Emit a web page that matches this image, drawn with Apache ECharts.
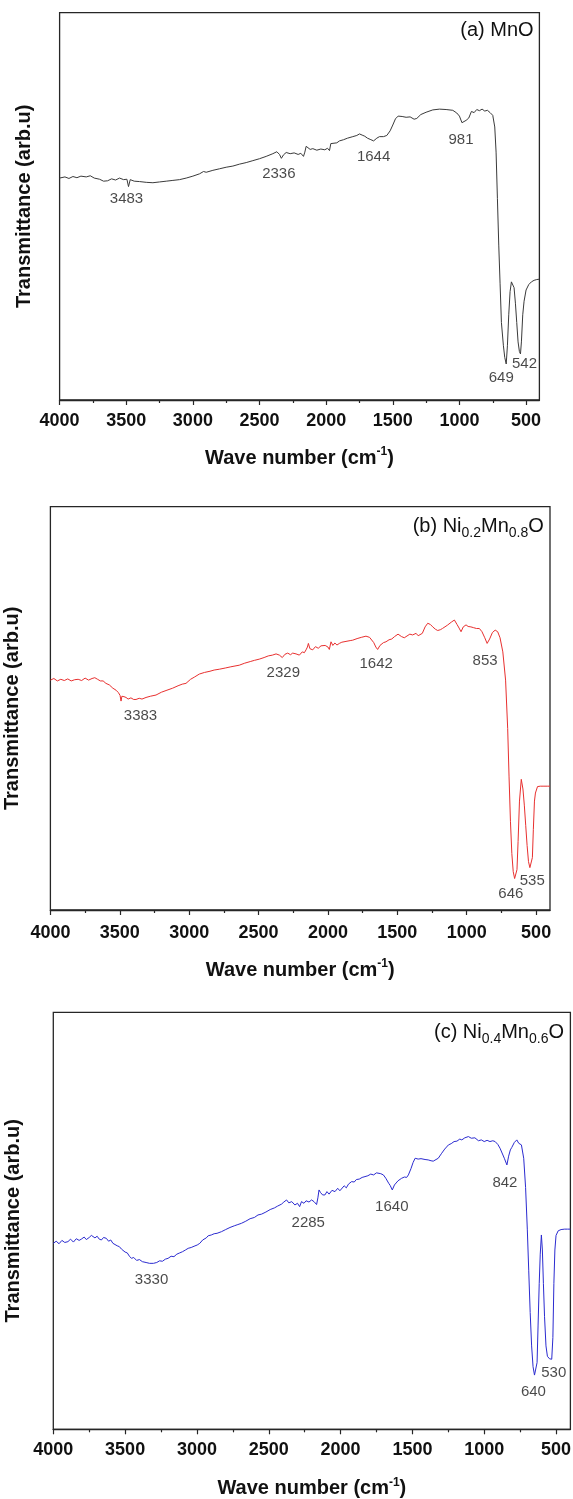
<!DOCTYPE html>
<html>
<head>
<meta charset="utf-8">
<script src="https://cdn.jsdelivr.net/npm/echarts@6/dist/echarts.min.js"></script>
<style>
  html, body { margin: 0; padding: 0; background: #fff; }
  #chart { width: 573px; height: 1499px; }
</style>
</head>
<body>
<div id="chart"></div>
<script>
// FTIR spectra of MnO, Ni0.2Mn0.8O and Ni0.4Mn0.6O (transmittance, arbitrary units 0-100)

// x axis tick labels (wavenumber, cm-1)
const majorTicks = [4000, 3500, 3000, 2500, 2000, 1500, 1000, 500];
const minorTicks = [3750, 3250, 2750, 2250, 1750, 1250, 750];

// (a) MnO
const waveA = [4000,3960,3930,3900,3870,3840,3800,3770,3740,3700,3670,3640,3610,3580,3550,3520,3495,3483,3470,3440,3400,3350,3300,3250,3200,3150,3100,3050,3000,2950,2920,2900,2850,2800,2750,2700,2650,2600,2550,2500,2450,2400,2370,2350,2336,2320,2300,2270,2240,2210,2190,2170,2160,2150,2140,2120,2100,2070,2040,2010,1990,1975,1965,1950,1920,1900,1870,1840,1800,1770,1750,1730,1710,1690,1670,1644,1620,1600,1570,1545,1520,1500,1480,1460,1430,1400,1370,1340,1320,1290,1250,1200,1150,1100,1050,1020,1000,981,970,950,930,910,890,870,850,830,810,790,770,750,735,725,715,705,695,685,670,660,649,640,630,620,610,600,590,580,570,560,550,542,535,525,515,500,480,460,440,420,400];
const transA = [57.3,57.6,57.2,57.7,57.4,57.8,57.6,57.9,57.3,57.0,56.5,56.6,57.1,56.8,57.3,56.9,57.0,55.1,56.9,56.5,56.4,56.2,56.1,56.3,56.5,56.7,56.9,57.3,57.8,58.4,59.0,58.8,59.3,59.7,60.1,60.4,60.9,61.3,61.8,62.3,62.9,63.6,64.1,63.4,62.4,63.3,63.9,63.6,63.8,63.4,63.7,62.9,64.0,65.5,65.0,64.7,64.9,64.5,64.8,64.6,65.0,64.4,66.2,65.8,66.4,66.9,67.2,67.6,68.0,68.3,68.7,68.4,68.1,67.6,67.3,66.9,67.6,68.0,68.0,68.3,69.5,71.0,72.6,73.3,73.2,73.0,73.1,72.5,72.7,73.7,74.3,74.9,75.1,75.0,74.8,74.1,73.3,71.6,71.7,72.2,72.8,74.5,74.2,75.0,74.7,75.1,74.6,74.8,74.2,73.5,70.5,64.0,52.0,40.0,30.0,20.0,14.0,11.0,9.3,14.0,22.0,28.0,30.5,30.7,29.0,25.0,20.0,15.0,12.5,11.9,15.0,22.0,25.5,28.4,29.8,30.5,30.9,31.1,31.2];
const peaksA = [3483, 2336, 1644, 981, 649, 542];

// (b) Ni0.2Mn0.8O
const waveB = [4000,3975,3950,3925,3900,3875,3850,3825,3800,3775,3750,3725,3700,3680,3660,3640,3620,3600,3575,3550,3527,3510,3498,3491,3485,3470,3455,3440,3420,3400,3383,3360,3340,3311,3280,3239,3200,3160,3119,3080,3050,3023,2990,2960,2927,2890,2850,2820,2783,2740,2700,2670,2639,2600,2560,2530,2495,2460,2430,2400,2374,2350,2329,2310,2290,2270,2254,2230,2206,2185,2170,2158,2148,2141,2130,2110,2090,2070,2050,2038,2020,2000,1990,1978,1965,1950,1935,1918,1900,1870,1840,1822,1790,1760,1726,1700,1690,1670,1655,1642,1625,1600,1582,1560,1540,1520,1510,1495,1486,1470,1450,1437,1410,1390,1365,1350,1341,1320,1300,1281,1262,1245,1225,1209,1190,1175,1161,1140,1110,1089,1070,1055,1041,1025,1005,990,970,950,930,909,890,870,853,835,815,795,777,760,740,720,705,695,685,675,665,655,646,638,630,620,607,595,585,575,565,555,545,535,527,520,512,505,490,470,450,420,400];
const transB = [57.0,57.4,56.8,57.2,56.9,57.3,56.8,57.1,57.2,56.9,57.5,57.0,57.4,57.6,57.2,56.8,56.8,56.2,55.8,55.0,54.5,53.9,53.2,51.8,53.0,52.9,52.7,52.3,52.6,52.2,52.2,52.5,52.3,52.7,53.0,53.3,54.0,54.5,55.0,55.6,56.0,56.2,57.2,57.8,58.5,58.9,59.2,59.5,59.7,60.0,60.3,60.5,60.7,61.2,61.6,61.9,62.2,62.6,63.0,63.2,63.5,63.2,62.6,63.4,63.7,63.3,63.7,63.5,63.2,64.0,63.8,64.5,65.2,66.1,64.8,64.5,65.3,64.9,65.5,65.1,65.6,65.2,64.6,66.5,65.6,66.2,65.7,66.1,66.4,66.6,66.8,66.9,67.3,67.6,67.9,67.6,67.4,66.3,65.2,64.6,65.6,66.3,66.5,67.0,67.2,67.8,68.2,68.4,68.8,67.8,67.5,67.8,68.4,68.2,68.6,68.0,67.6,68.6,70.2,71.1,70.8,70.2,69.6,69.3,69.5,69.8,69.8,70.6,71.4,71.9,70.8,69.9,69.0,70.2,70.7,70.3,70.2,70.0,69.8,69.8,69.0,67.5,66.1,67.2,68.8,69.4,69.0,67.5,64.0,57.0,45.0,33.0,22.0,14.0,9.5,7.8,7.6,10.0,17.0,27.0,32.4,30.0,26.0,21.0,16.0,12.0,10.5,10.3,13.0,20.0,27.0,29.0,30.6,30.7,30.7,30.7,30.7];
const peaksB = [3383, 2329, 1642, 853, 646, 535];

// (c) Ni0.4Mn0.6O
const waveC = [4000,3980,3960,3940,3920,3898,3880,3860,3840,3820,3805,3785,3770,3750,3735,3723,3710,3695,3680,3665,3650,3631,3615,3600,3585,3572,3555,3540,3525,3514,3500,3485,3470,3456,3440,3420,3400,3380,3354,3330,3303,3280,3260,3240,3220,3201,3180,3160,3140,3120,3100,3080,3061,3040,3020,2998,2980,2960,2947,2935,2922,2900,2880,2860,2850,2829,2800,2770,2740,2715,2690,2660,2630,2600,2575,2550,2520,2490,2460,2440,2411,2395,2376,2360,2340,2318,2300,2285,2272,2255,2240,2220,2202,2185,2167,2158,2150,2140,2125,2109,2095,2080,2060,2039,2020,2005,1993,1975,1960,1945,1923,1905,1890,1870,1850,1830,1810,1790,1770,1750,1737,1720,1702,1685,1665,1655,1640,1625,1600,1575,1555,1540,1528,1510,1495,1481,1460,1440,1412,1390,1370,1355,1342,1320,1296,1275,1249,1230,1210,1190,1170,1156,1135,1110,1090,1065,1040,1020,1000,980,960,940,924,905,890,878,860,842,830,818,808,790,773,760,741,725,712,700,690,680,670,660,650,640,632,625,617,610,602,595,588,580,570,560,545,530,522,515,508,500,485,465,440,420,400];
const transC = [44.6,45.1,44.5,45.3,44.8,45.0,45.6,44.9,45.7,45.3,45.6,46.1,45.5,46.0,46.5,46.2,45.9,46.3,45.6,45.4,46.0,45.8,45.1,45.4,44.6,44.7,44.0,43.8,43.2,43.4,42.5,42.3,41.5,41.0,41.2,40.5,40.7,40.2,40.0,39.8,39.8,40.0,40.4,40.3,40.8,41.0,41.5,41.4,42.0,42.3,42.6,43.0,43.4,43.6,43.9,44.2,44.6,45.4,45.8,45.9,46.4,46.6,46.9,47.0,47.2,47.4,47.9,48.4,48.8,49.1,49.4,49.9,50.5,50.8,51.4,51.6,52.1,52.7,53.1,53.5,54.0,54.5,55.0,54.3,54.6,53.8,54.2,53.4,54.6,54.2,54.8,54.5,55.0,54.6,53.9,55.5,57.4,56.8,56.2,56.2,57.0,56.4,57.3,57.0,57.8,57.2,57.6,58.4,57.9,58.8,59.4,59.3,59.9,60.0,60.4,60.6,60.8,61.2,61.0,61.5,61.5,61.3,61.0,60.2,59.0,58.5,57.4,58.6,59.6,60.2,60.5,60.4,61.0,62.5,64.0,65.0,64.8,64.9,64.7,64.6,64.4,64.3,64.0,65.0,66.2,67.2,68.2,68.5,69.0,69.1,69.6,69.4,69.9,70.2,69.8,69.9,69.2,69.4,69.0,69.3,69.0,69.2,69.0,68.3,67.4,67.0,65.0,63.4,65.5,67.0,67.6,68.8,69.4,68.6,68.2,65.0,58.0,48.0,38.0,28.0,20.0,15.0,13.0,12.6,16.0,25.0,35.0,42.0,46.6,43.0,35.0,27.0,20.0,17.5,16.9,16.8,22.0,35.0,43.0,46.5,47.6,47.9,48.0,48.0,48.0];
const peaksC = [3330, 2285, 1640, 842, 640, 530];

// ---- layout and styling ----
const FONT = '"Liberation Sans", Arial, Helvetica, sans-serif';
const FRAME = '#262626';

const panels = [
  { wave: waveA, trans: transA, peaks: peaksA, color: '#3a3a3a',
    grid: { left: 59.6, top: 12.7, width: 479.8, height: 387.3 },
    title: '{m|(a) MnO}', titleRight: 39.4, titleTop: 17,
    labelMargin: 12, nameGap: 46, yNameGap: 25,
    offsets: [[-2, 12], [-2.5, 15.5], [0, 16], [-1, 17], [-5, 14], [4, 10]] },
  { wave: waveB, trans: transB, peaks: peaksB, color: '#e8302f',
    grid: { left: 50.4, top: 506.7, width: 499.6, height: 403.3 },
    title: '{m|(b) Ni}{s|0.2}{m|Mn}{s|0.8}{m|O}', titleRight: 29.2, titleTop: 513.7,
    labelMargin: 14, nameGap: 48, yNameGap: 28.4,
    offsets: [[4.5, 16], [1, 15], [-1.5, 14], [-2, 17], [-5, 15], [1, 12]] },
  { wave: waveC, trans: transC, peaks: peaksC, color: '#2b2bd0',
    grid: { left: 53.3, top: 1012.3, width: 517.1, height: 417 },
    title: '{m|(c) Ni}{s|0.4}{m|Mn}{s|0.6}{m|O}', titleRight: 9, titleTop: 1019.7,
    labelMargin: 12, nameGap: 47, yNameGap: 29.6,
    offsets: [[2, 17], [8.6, 16], [-0.5, 17], [-2, 18], [-2.5, 15], [2, 14]] }
];

function valueAt(wave, trans, wn) {
  let best = 0;
  for (let i = 0; i < wave.length; i++) {
    if (Math.abs(wave[i] - wn) < Math.abs(wave[best] - wn)) best = i;
  }
  return trans[best];
}

const option = {
  animation: false,
  backgroundColor: '#fff',
  textStyle: { fontFamily: FONT },
  grid: [], xAxis: [], yAxis: [], series: [], title: []
};

panels.forEach((p, i) => {
  option.grid.push(Object.assign({
    show: true, borderColor: FRAME, borderWidth: 1.3, backgroundColor: 'transparent',
    containLabel: false, outerBoundsMode: 'none'
  }, p.grid));

  // main x axis: major ticks and labels
  option.xAxis.push({
    gridIndex: i, type: 'value', min: 400, max: 4000, inverse: true,
    axisLine: { show: true, onZero: false, lineStyle: { color: FRAME, width: 1.3 } },
    axisTick: { show: true, customValues: majorTicks, length: 5, lineStyle: { color: FRAME, width: 1.2 } },
    axisLabel: { customValues: majorTicks, margin: p.labelMargin, color: '#111',
      formatter: (v) => String(v),
      fontFamily: FONT, fontSize: 18, fontWeight: 'bold' },
    splitLine: { show: false },
    name: '{n|Wave number (cm}{s|-1}{n|)}', nameLocation: 'middle', nameGap: p.nameGap,
    nameTextStyle: { rich: {
      n: { fontFamily: FONT, fontSize: 20, fontWeight: 'bold', color: '#111', lineHeight: 24 },
      s: { fontFamily: FONT, fontSize: 12, fontWeight: 'bold', color: '#111', lineHeight: 13, verticalAlign: 'top' }
    } }
  });
  // companion x axis: minor ticks only
  option.xAxis.push({
    gridIndex: i, type: 'value', min: 400, max: 4000, inverse: true, position: 'bottom',
    axisLine: { show: false },
    axisTick: { show: true, customValues: minorTicks, length: 3, lineStyle: { color: FRAME, width: 1.2 } },
    axisLabel: { show: false }, splitLine: { show: false }
  });

  option.yAxis.push({
    gridIndex: i, type: 'value', min: 0, max: 100,
    axisLine: { show: false }, axisTick: { show: false }, axisLabel: { show: false },
    splitLine: { show: false },
    name: 'Transmittance (arb.u)', nameLocation: 'middle', nameRotate: 90, nameGap: p.yNameGap,
    nameTextStyle: { fontFamily: FONT, fontSize: 20, fontWeight: 'bold', color: '#111' }
  });

  option.series.push({
    type: 'line', xAxisIndex: 2 * i, yAxisIndex: i,
    data: p.wave.map((w, k) => [w, p.trans[k]]),
    showSymbol: false, symbol: 'none',
    lineStyle: { color: p.color, width: 1 }, silent: true
  });

  // peak position labels anchored to the spectrum
  option.series.push({
    type: 'scatter', xAxisIndex: 2 * i, yAxisIndex: i,
    symbolSize: 1, itemStyle: { color: 'rgba(0,0,0,0)' }, silent: true, z: 5,
    data: p.peaks.map((wn, k) => ({
      value: [wn, valueAt(p.wave, p.trans, wn)],
      label: { offset: p.offsets[k] }
    })),
    label: {
      show: true, position: 'inside', formatter: (d) => String(d.value[0]),
      color: '#1a1a1a', fontFamily: FONT, fontSize: 15, fontWeight: 'normal',
      align: 'center', verticalAlign: 'middle'
    }
  });

  option.title.push({
    text: p.title, right: p.titleRight, top: p.titleTop, padding: 0,
    textStyle: { fontWeight: 'normal', rich: {
      m: { fontFamily: FONT, fontSize: 20, fontWeight: 'normal', color: '#111', lineHeight: 26 },
      s: { fontFamily: FONT, fontSize: 14, fontWeight: 'normal', color: '#111', lineHeight: 14, verticalAlign: 'bottom' }
    } }
  });
});

const chart = echarts.init(document.getElementById('chart'), null, { renderer: 'canvas' });
chart.setOption(option);
</script>
</body>
</html>
